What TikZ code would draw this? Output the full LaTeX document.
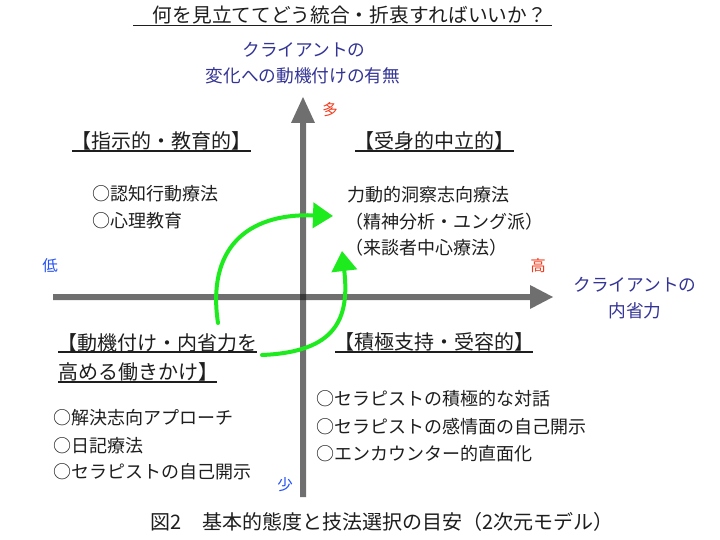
\documentclass[tikz,border=0pt]{standalone}
\usepackage{fontspec}
\newfontfamily\jp{Noto Sans CJK JP}
\usetikzlibrary{arrows.meta}
\definecolor{navy}{RGB}{52,52,150}
\definecolor{lblue}{RGB}{35,80,250}
\definecolor{lred}{RGB}{240,60,30}
\definecolor{axisgray}{RGB}{27,27,27}
\definecolor{crayon}{RGB}{30,235,30}
\definecolor{ink}{RGB}{30,30,30}
\tikzset{
  txt/.style={inner sep=0pt, text=ink, font=\jp\fontsize{18}{20}\selectfont},
  head/.style={inner sep=0pt, text=ink, font=\jp\fontsize{20}{22}\selectfont},
  ttl/.style={inner sep=0pt, text=ink, font=\jp\fontsize{19.7}{22}\selectfont},
  axlabel/.style={inner sep=0pt, text=navy, font=\jp\fontsize{17.7}{20}\selectfont},
  endlabel/.style={inner sep=0pt, font=\jp\fontsize{15.5}{18}\selectfont},
  uline/.style={line width=1.5pt, draw=ink},
  axis/.style={fill=axisgray, fill opacity=0.63},
  greenarrow/.style={draw=crayon, line width=4pt, line cap=round,
    -{Triangle[length=20pt,width=25pt]}}
}
\begin{document}
\begin{tikzpicture}[x=1pt,y=-1pt]
\useasboundingbox[fill=white] (0,0) rectangle (720,540);

% title
\node[ttl, anchor=west] (title) at (133,15) {　何を見立ててどう統合・折衷すればいいか？};
\draw[uline] (133,25.5) -- (552,25.5);

% vertical axis label
\node[axlabel] (vlab1) at (304,50) {クライアントの};
\node[axlabel] (vlab2) at (303,76) {変化への動機付けの有無};

% axes
\fill[axis] (300,497) -- (306,497) -- (306,123) -- (315,123) -- (303,97)
  -- (291,123) -- (300,123) -- cycle;
\fill[axis] (53,294) -- (530,294) -- (530,285) -- (553,297) -- (530,309)
  -- (530,300) -- (53,300) -- cycle;

% axis end labels
\node[endlabel, text=lred] (many) at (330,110) {多};
\node[endlabel, text=lblue] (low) at (50,266) {低};
\node[endlabel, text=lred] (high) at (538,266) {高};
\node[endlabel, text=lblue] (few) at (285,485) {少};

% horizontal axis label
\node[axlabel] (hlab1) at (635,285) {クライアントの};
\node[axlabel] (hlab2) at (635,311) {内省力};

% quadrant II
\node[head] (q2h) at (161,141) {【指示的・教育的】};
\draw[uline] (72,151) -- (251,151);
\node[txt, anchor=west] (q2a) at (92,194) {○認知行動療法};
\node[txt, anchor=west] (q2b) at (92,221) {○心理教育};

% quadrant I
\node[head] (q1h) at (434,141) {【受身的中立的】};
\draw[uline] (355,151) -- (514,151);
\node[txt, anchor=west] (q1a) at (347,195) {力動的洞察志向療法};
\node[txt, anchor=west] (q1b) at (345,222) {（精神分析・ユング派）};
\node[txt, anchor=west] (q1c) at (345,248) {（来談者中心療法）};

% quadrant III
\node[head, anchor=east] (q3h1) at (258,343) {【動機付け・内省力を};
\draw[uline] (58,352) -- (257,352);
\node[head, anchor=west] (q3h2) at (58,372) {高める働きかけ】};
\draw[uline] (58,382) -- (217,382);
\node[txt, anchor=west] (q3a) at (53,418) {○解決志向アプローチ};
\node[txt, anchor=west] (q3b) at (53,446) {○日記療法};
\node[txt, anchor=west] (q3c) at (53,472) {○セラピストの自己開示};

% quadrant IV
\node[head] (q4h) at (434,342) {【積極支持・受容的】};
\draw[uline] (335,352) -- (533,352);
\node[txt, anchor=west] (q4a) at (316,399) {○セラピストの積極的な対話};
\node[txt, anchor=west] (q4b) at (316,427) {○セラピストの感情面の自己開示};
\node[txt, anchor=west] (q4c) at (316,454) {○エンカウンター的直面化};

% green arrows
\coordinate (g1s) at (218,323);
\coordinate (g1e) at (333,216);
\coordinate (g2s) at (262,355);
\coordinate (g2e) at (342,251);
\draw[greenarrow] (g1s) .. controls (207,250) and (245,213) .. (g1e);
\draw[greenarrow] (g2s) .. controls (335,352) and (350,320) .. (g2e);

% caption
\node[ttl, font=\jp\fontsize{20}{22}\selectfont] (cap) at (382,522) {図2　基本的態度と技法選択の目安（2次元モデル）};
\end{tikzpicture}
\end{document}
